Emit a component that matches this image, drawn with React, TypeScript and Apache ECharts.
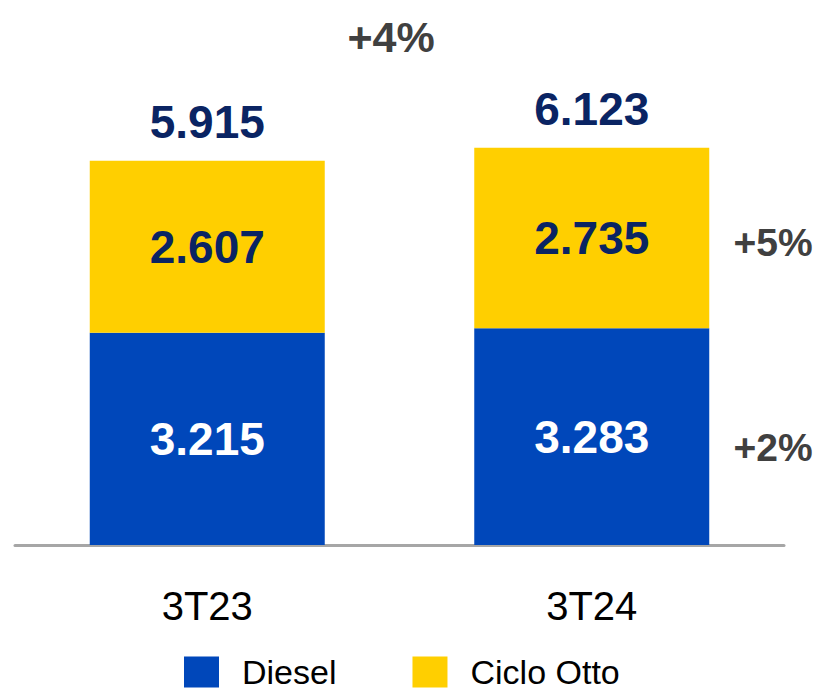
import React, { useEffect, useRef } from "react";
import * as echarts from "echarts";

const categories = ["3T23", "3T24"];
const diesel = [3215, 3283];
const cicloOtto = [2607, 2735];
const totals = [5915, 6123];
const growthTotal = "+4%";
const growthOtto = "+5%";
const growthDiesel = "+2%";

const BLUE = "#0047BA";
const YELLOW = "#FFCF00";
const NAVY = "#0A2463";
const GRAY = "#404040";
const FONT = "Liberation Sans, Arial, sans-serif";

const fmt = (v: number) => (v / 1000).toFixed(3);

export default function App() {
  const ref = useRef<HTMLDivElement>(null);
  useEffect(() => {
    document.body.style.margin = "0";
    const chart = echarts.init(ref.current!, undefined, { renderer: "svg" });
    chart.setOption({
      animation: false,
      backgroundColor: "#ffffff",
      textStyle: { fontFamily: FONT },
      grid: { left: 15, right: 37, top: 83, bottom: 145 },
      legend: {
        data: ["Diesel", "Ciclo Otto"],
        left: 184,
        top: 655,
        padding: 0,
        itemWidth: 35,
        itemHeight: 31,
        itemGap: 76,
        icon: "rect",
        textStyle: {
          fontSize: 34,
          lineHeight: 34,
          color: "#000",
          fontFamily: FONT,
          padding: [0, 0, 0, 18],
        },
      },
      xAxis: {
        type: "category",
        data: categories,
        axisLine: { lineStyle: { color: "#A6A6A6", width: 3 } },
        axisTick: { show: false },
        axisLabel: { fontSize: 40, color: "#000", margin: 41, fontFamily: FONT },
      },
      yAxis: {
        type: "value",
        min: 0,
        max: 7000,
        show: false,
        splitLine: { show: false },
      },
      series: [
        {
          name: "Diesel",
          type: "bar",
          stack: "t",
          barWidth: 235,
          data: diesel,
          itemStyle: { color: BLUE },
          label: {
            show: true,
            position: "inside",
            formatter: (p: any) => fmt(p.value),
            color: "#fff",
            fontWeight: "bold",
            fontSize: 46,
            fontFamily: FONT,
          },
        },
        {
          name: "Ciclo Otto",
          type: "bar",
          stack: "t",
          barWidth: 235,
          data: cicloOtto,
          itemStyle: { color: YELLOW },
          label: {
            show: true,
            position: "inside",
            formatter: (p: any) => fmt(p.value),
            color: NAVY,
            fontWeight: "bold",
            fontSize: 46,
            fontFamily: FONT,
          },
        },
        {
          name: "Total",
          type: "scatter",
          symbolSize: 0,
          itemStyle: { opacity: 1 },
          data: diesel.map((d, i) => d + cicloOtto[i]),
          label: {
            show: true,
            position: "top",
            distance: 16,
            formatter: (p: any) => fmt(totals[p.dataIndex]),
            color: NAVY,
            opacity: 1,
            fontWeight: "bold",
            fontSize: 46,
            fontFamily: FONT,
          },
        },
      ],
      graphic: [
        {
          type: "text",
          x: 391,
          y: 37,
          style: {
            text: growthTotal,
            fill: GRAY,
            font: `bold 43px ${FONT}`,
            textAlign: "center",
            textVerticalAlign: "middle",
          },
        },
        {
          type: "text",
          x: 773,
          y: 242,
          style: {
            text: growthOtto,
            fill: GRAY,
            font: `bold 39px ${FONT}`,
            textAlign: "center",
            textVerticalAlign: "middle",
          },
        },
        {
          type: "text",
          x: 773,
          y: 447,
          style: {
            text: growthDiesel,
            fill: GRAY,
            font: `bold 39px ${FONT}`,
            textAlign: "center",
            textVerticalAlign: "middle",
          },
        },
      ],
    });
    return () => chart.dispose();
  }, []);
  return <div ref={ref} style={{ width: 821, height: 690 }} />;
}
